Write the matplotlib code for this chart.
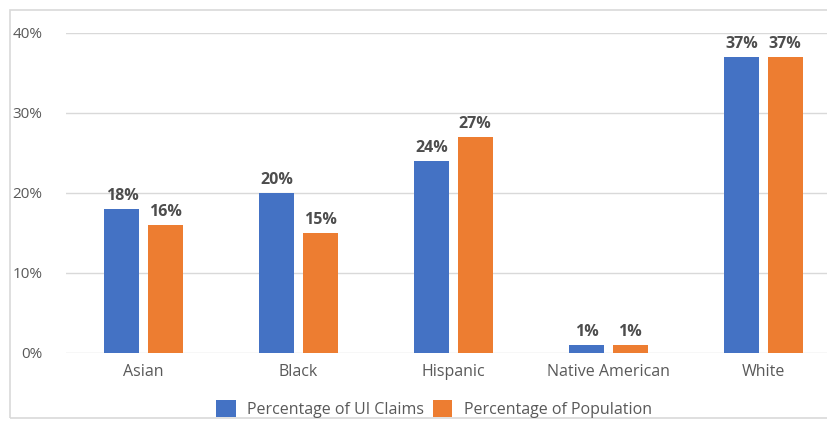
import numpy as np
import matplotlib.pyplot as plt
from matplotlib.patches import Rectangle

plt.rcParams['font.family'] = ['Open Sans', 'DejaVu Sans']

groups = ['Asian', 'Black', 'Hispanic', 'Native American', 'White']
ui_claims = [18, 20, 24, 1, 37]
population = [16, 15, 27, 1, 37]
series_names = ['Percentage of UI Claims', 'Percentage of Population']
colors = ['#4472C4', '#ED7D31']

W, H = 827, 421
fig = plt.figure(figsize=(W / 100, H / 100), dpi=100)

# chart frame (right side runs past the image edge)
fig.patches.append(Rectangle((10 / W, 3 / H), 1.2, (411 - 3) / H, transform=fig.transFigure,
                             fill=False, edgecolor='#d9d9d9', linewidth=1.2))

# plot area: 0% at y=353px, 40% at y=33px, slots of 155px starting at x=66px
ax = fig.add_axes([66 / W, (H - 353) / H, 775 / W, 320 / H])
x = np.arange(len(groups))
w = 0.226
off = 0.139
b1 = ax.bar(x - off, ui_claims, w, color=colors[0], label=series_names[0])
b2 = ax.bar(x + off, population, w, color=colors[1], label=series_names[1])

for bars, vals in ((b1, ui_claims), (b2, population)):
    for r, v in zip(bars, vals):
        ax.text(r.get_x() + r.get_width() / 2, v + 0.6, f'{v}%', ha='center', va='bottom',
                fontsize=11.5, fontweight='bold', color='#4d4d4d')

ax.set_xlim(-0.5, len(groups) - 0.5)
ax.set_ylim(0, 40)
ax.set_yticks(range(0, 41, 10))
ax.set_yticklabels([f'{t}%' for t in range(0, 41, 10)])
ax.set_xticks(x)
ax.set_xticklabels(groups)
ax.tick_params(axis='both', length=0, labelsize=11.5, colors='#595959')
ax.tick_params(axis='y', labelsize=11, pad=17)
ax.tick_params(axis='x', pad=8)
ax.grid(axis='y', color='#d9d9d9', linewidth=1)
ax.set_axisbelow(True)
for s in ax.spines.values():
    s.set_visible(False)

fig.legend(loc='center', bbox_to_anchor=(434 / W, (H - 409) / H), ncol=2, frameon=False,
           fontsize=11.5, labelcolor='#595959', handlelength=1.2, handleheight=1.2,
           columnspacing=0.6, handletextpad=0.7)

fig.savefig('out.png', dpi=100)
